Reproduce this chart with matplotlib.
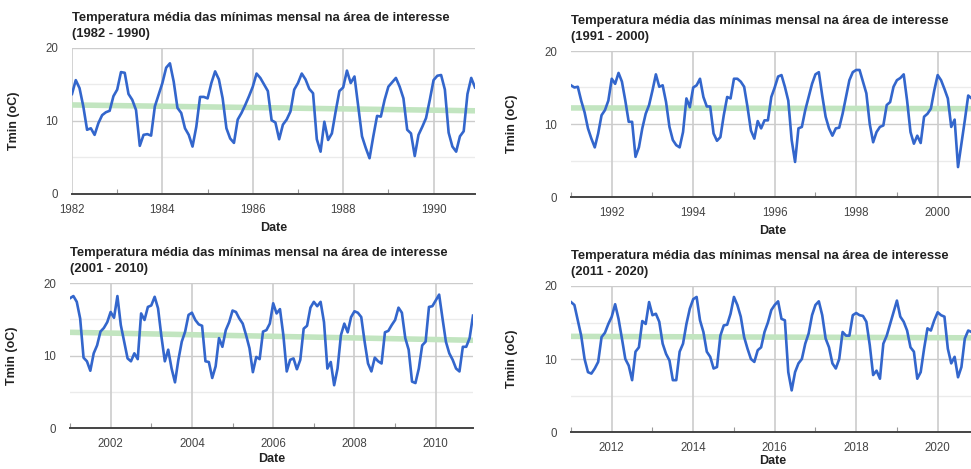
import numpy as np
import matplotlib
matplotlib.use("Agg")
import matplotlib.pyplot as plt
from matplotlib.ticker import FixedLocator

plt.rcParams['font.family'] = ['Liberation Sans', 'DejaVu Sans']

# ---- data (monthly mean of minimum temperature, oC) ----
tmin_1982_1990 = [
    13.7, 15.6, 14.5, 12.0, 8.8, 9.0, 8.1, 9.7, 10.8, 11.2, 11.4, 13.4,
    14.3, 16.7, 16.6, 13.7, 12.9, 11.5, 6.6, 8.1, 8.2, 8.0, 12.0, 13.6,
    15.2, 17.3, 17.9, 15.4, 11.8, 11.1, 9.0, 8.1, 6.5, 9.2, 13.3, 13.3,
    13.1, 15.2, 16.8, 15.7, 13.1, 9.0, 7.6, 7.0, 10.2, 11.1, 12.2, 13.4,
    14.7, 16.5, 15.9, 15.0, 14.1, 10.1, 9.8, 7.5, 9.5, 10.2, 11.3, 14.3,
    15.2, 16.5, 15.7, 14.4, 13.8, 7.5, 5.8, 9.9, 7.4, 8.3, 11.3, 14.1,
    14.6, 16.9, 15.2, 16.1, 12.0, 7.9, 6.3, 4.9, 7.9, 10.7, 10.6, 12.9,
    14.7, 15.3, 15.9, 14.7, 13.1, 8.8, 8.3, 5.2, 8.1, 9.2, 10.4, 12.9,
    15.6, 16.2, 16.3, 14.3, 8.4, 6.5, 5.8, 7.9, 8.6, 13.7, 15.9, 14.6,
]
tmin_1991_2000 = [
    15.3, 15.0, 15.1, 13.2, 11.6, 9.4, 8.0, 6.8, 8.7, 11.2, 11.9, 13.2,
    16.2, 15.5, 17.0, 15.8, 13.2, 10.3, 10.3, 5.5, 6.8, 9.4, 11.4, 12.6,
    14.6, 16.8, 15.1, 15.3, 13.0, 9.6, 7.8, 7.1, 6.8, 8.9, 13.5, 12.3,
    15.0, 15.3, 16.2, 13.7, 12.4, 12.4, 8.7, 7.7, 8.2, 11.2, 13.7, 13.5,
    16.2, 16.2, 15.8, 15.1, 12.3, 9.1, 8.0, 10.4, 9.4, 10.5, 10.5, 13.7,
    15.0, 16.5, 16.7, 15.1, 13.2, 7.8, 4.8, 9.4, 9.6, 11.9, 13.7, 15.5,
    16.8, 17.1, 13.9, 11.0, 9.4, 8.4, 9.4, 9.5, 11.4, 13.7, 16.0, 17.1,
    17.4, 17.4, 15.8, 14.2, 10.0, 7.5, 8.9, 9.6, 9.8, 12.6, 13.0, 15.1,
    16.0, 16.3, 16.8, 13.2, 8.9, 7.3, 8.4, 7.4, 11.0, 11.4, 12.1, 14.6,
    16.7, 16.0, 14.8, 13.5, 9.6, 10.6, 4.1, 7.3, 10.5, 13.9, 13.5, 14.0,
]
tmin_2001_2010 = [
    17.9, 18.2, 17.4, 15.1, 9.7, 9.2, 7.9, 10.3, 11.4, 13.3, 13.8, 14.6,
    16.0, 15.2, 18.2, 14.2, 11.9, 9.6, 9.2, 10.3, 9.5, 15.8, 14.9, 16.7,
    16.9, 18.1, 16.5, 12.6, 9.2, 10.8, 8.2, 6.3, 9.4, 11.9, 13.3, 15.6,
    15.9, 14.9, 14.3, 14.1, 9.2, 9.1, 6.9, 8.5, 12.4, 11.2, 13.5, 14.6,
    16.2, 16.0, 15.1, 14.4, 12.8, 11.0, 7.7, 9.8, 9.5, 13.3, 13.5, 14.4,
    17.2, 15.8, 16.4, 12.8, 7.8, 9.4, 9.6, 8.1, 9.4, 13.7, 14.1, 16.6,
    17.4, 16.8, 17.4, 14.6, 8.2, 9.1, 5.9, 8.2, 12.8, 14.4, 13.2, 15.3,
    16.1, 15.9, 15.3, 11.9, 8.9, 7.8, 9.7, 9.2, 8.9, 13.2, 13.4, 14.2,
    14.9, 16.6, 15.9, 12.4, 10.8, 6.4, 6.2, 8.2, 11.4, 11.9, 16.7, 16.8,
    17.6, 18.4, 15.1, 11.9, 10.3, 9.4, 8.2, 7.8, 11.2, 11.2, 12.4, 15.5,
]
tmin_2011_2020 = [
    17.8, 17.4, 15.3, 13.2, 10.0, 8.2, 8.0, 8.7, 9.6, 13.0, 13.6, 14.8,
    15.8, 17.5, 15.5, 12.8, 10.0, 9.1, 7.1, 11.0, 11.6, 15.2, 14.8, 17.8,
    16.0, 16.2, 15.1, 12.1, 10.7, 9.8, 7.1, 7.1, 11.0, 12.1, 14.8, 16.9,
    18.2, 18.5, 15.3, 13.7, 11.0, 10.3, 8.7, 8.9, 13.2, 14.6, 14.7, 16.2,
    18.5, 17.4, 15.8, 13.0, 11.4, 10.0, 9.6, 11.2, 11.6, 13.7, 15.0, 16.7,
    17.4, 17.9, 15.5, 15.3, 8.2, 5.7, 8.2, 9.4, 10.0, 12.1, 13.5, 16.0,
    17.4, 17.9, 16.0, 12.8, 11.6, 9.4, 8.7, 10.0, 13.7, 13.2, 13.2, 16.0,
    16.3, 16.0, 15.9, 15.1, 11.9, 7.8, 8.4, 7.3, 12.1, 13.2, 14.8, 16.4,
    18.0, 15.8, 15.1, 13.9, 11.6, 11.0, 7.3, 8.2, 11.4, 14.2, 13.9, 15.3,
    16.4, 16.0, 15.8, 11.4, 9.4, 10.3, 7.5, 8.9, 12.8, 13.9, 13.7, 14.0,
]
# linear trend (start, end)
trend_1982_1990 = [12.2, 11.4]
trend_1991_2000 = [12.2, 12.1]
trend_2001_2010 = [13.2, 12.1]
trend_2011_2020 = [13.1, 12.9]

start_years = [1982, 1991, 2001, 2011]
titles = ["Temperatura média das mínimas mensal na área de interesse\n(1982 - 1990)",
          "Temperatura média das mínimas mensal na área de interesse\n(1991 - 2000)",
          "Temperatura média das mínimas mensal na área de interesse\n(2001 - 2010)",
          "Temperatura média das mínimas mensal na área de interesse\n(2011 - 2020)"]
series = [tmin_1982_1990, tmin_1991_2000, tmin_2001_2010, tmin_2011_2020]
trends = [trend_1982_1990, trend_1991_2000, trend_2001_2010, trend_2011_2020]

W, H = 971, 469
fig = plt.figure(figsize=(W / 100, H / 100), dpi=100)
fig.patch.set_facecolor('white')

# axes boxes in pixels: left, top, width, height, xlabel offset
boxes = [(72, 48, 403, 146, -0.19), (571, 51, 404, 146, -0.19),
         (70, 283, 403, 145, -0.175), (571, 286, 404, 146, -0.16)]

for (l, t, w, h, xlo), y0, vals, tr, title in zip(boxes, start_years, series, trends, titles):
    ax = fig.add_axes([l / W, 1 - (t + h) / H, w / W, h / H])
    vals = np.asarray(vals)
    x = y0 + np.arange(len(vals)) / 12.0
    ax.set_xlim(x[0], x[-1])
    ax.set_ylim(0, 20)

    ax.plot([x[0], x[-1]], tr, color='#c2e5c0', lw=4.0, solid_capstyle='butt', zorder=2)
    ax.plot(x, vals, color='#3366cc', lw=1.9, zorder=3)

    first_even = y0 if y0 % 2 == 0 else y0 + 1
    majors = list(range(first_even, int(x[-1]) + 1, 2))
    minors = list(range(y0 if y0 % 2 == 1 else y0 + 1, int(x[-1]) + 1, 2))
    ax.xaxis.set_major_locator(FixedLocator(majors))
    ax.xaxis.set_minor_locator(FixedLocator(minors))
    ax.set_xticklabels([str(m) for m in majors])
    ax.yaxis.set_major_locator(FixedLocator([0, 10, 20]))
    ax.yaxis.set_minor_locator(FixedLocator([5, 15]))

    for yy in [10, 20]:
        ax.axhline(yy, color='#cccccc', lw=1.0, zorder=1)
    for yy in [5, 15]:
        ax.axhline(yy, color='#ebebeb', lw=1.0, zorder=1)
    for xx in majors:
        ax.axvline(xx, color='#cccccc', lw=1.2, zorder=1)

    for s in ['top', 'right', 'left']:
        ax.spines[s].set_visible(False)
    ax.spines['bottom'].set_color('#444444')
    ax.spines['bottom'].set_linewidth(1.4)
    ax.spines['bottom'].set_zorder(4)

    ax.tick_params(axis='x', which='major', length=0, pad=7, labelsize=8.3, labelcolor='#444444')
    ax.tick_params(axis='x', which='minor', length=3.5, direction='in', color='#999999', width=0.8)
    ax.tick_params(axis='y', which='both', length=0, pad=10, labelsize=8.3, labelcolor='#444444')

    ax.set_xlabel('Date', fontsize=9, fontweight='bold', color='#222222')
    ax.xaxis.set_label_coords(0.5, xlo)
    ax.set_ylabel('Tmin (oC)', fontsize=9, fontweight='bold', color='#222222')
    ax.yaxis.set_label_coords(-0.13, 0.5)

    ax.set_title(title, loc='left', fontsize=9.4, fontweight='bold', color='#222222',
                 pad=8, linespacing=1.45)

fig.savefig('out.png', dpi=100, facecolor='white')
